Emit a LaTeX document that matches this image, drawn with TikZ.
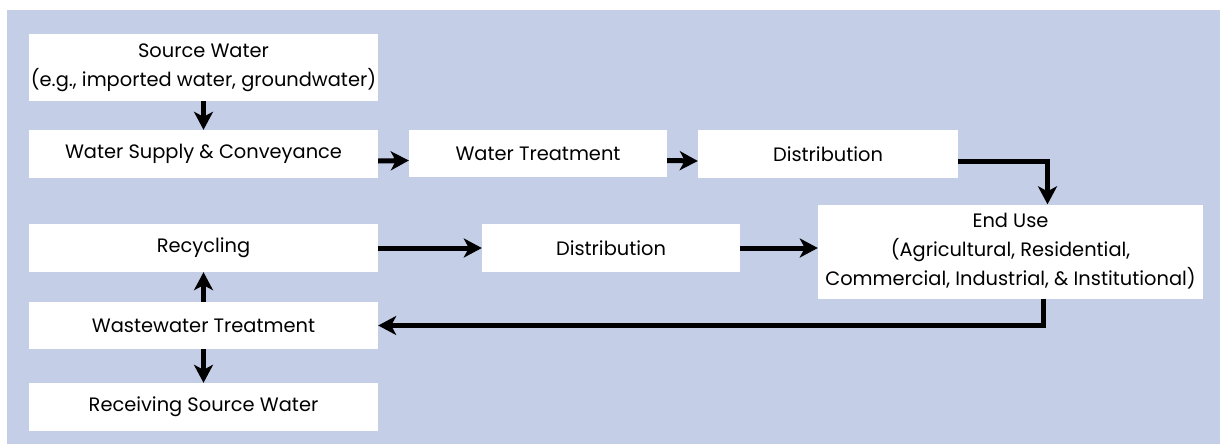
\documentclass[tikz,border=0pt]{standalone}
\usepackage{fontspec}
\setmainfont{Poppins}
\usetikzlibrary{arrows.meta,calc}
\definecolor{bgblue}{HTML}{C4CEE6}
\begin{document}
\begin{tikzpicture}[x=1pt,y=-1pt,
  box/.style={fill=white,draw=none,inner sep=0pt,align=center,font=\fontsize{19.4}{29}\selectfont},
  flow/.style={line width=5pt,-{Stealth[length=18pt,width=19pt,inset=5pt]}}]
\useasboundingbox (0,0) rectangle (1220,444);
\fill[bgblue] (7,10) rectangle (1220,444);
\node[box,minimum width=349pt,minimum height=67pt] (src) at (203.5,67.5) {Source Water\\(e.g., imported water, groundwater)};
\node[box,minimum width=349pt,minimum height=48pt] (sup) at (203.5,154) {Water Supply \& Conveyance};
\node[box,minimum width=258pt,minimum height=47pt] (wt) at (538,153.5) {Water Treatment};
\node[box,minimum width=260pt,minimum height=48pt] (d1) at (828,154) {Distribution};
\node[box,minimum width=385pt,minimum height=94pt] (end) at (1010.5,251.5) {End Use\\(Agricultural, Residential,\\Commercial, Industrial, \& Institutional)};
\node[box,minimum width=349pt,minimum height=48pt] (rec) at (203.5,248) {Recycling};
\node[box,minimum width=258pt,minimum height=48pt] (d2) at (611,248) {Distribution};
\node[box,minimum width=349pt,minimum height=47pt] (ww) at (203.5,325.5) {Wastewater Treatment};
\node[box,minimum width=349pt,minimum height=48pt] (rcv) at (203.5,407) {Receiving Source Water};
\draw[flow] (src.south) -- (sup.north);
\draw[flow] ([yshift=-7pt]sup.east) -- ([yshift=-7pt]wt.west);
\draw[flow] ([yshift=-7pt]wt.east) -- ([yshift=-7pt]d1.east -| d1.west);
\draw[flow] ([yshift=-7pt]d1.east) -| ([xshift=37pt]end.north);
\draw[flow] (rec.east) -- (rec.east -| d2.west);
\draw[flow] (d2.east) -- (d2.east -| end.west);
\draw[flow] ([xshift=33pt]end.south) |- (ww.east);
\draw[flow] (ww.north) -- (rec.south);
\draw[flow] (ww.south) -- (rcv.north);
\end{tikzpicture}
\end{document}
